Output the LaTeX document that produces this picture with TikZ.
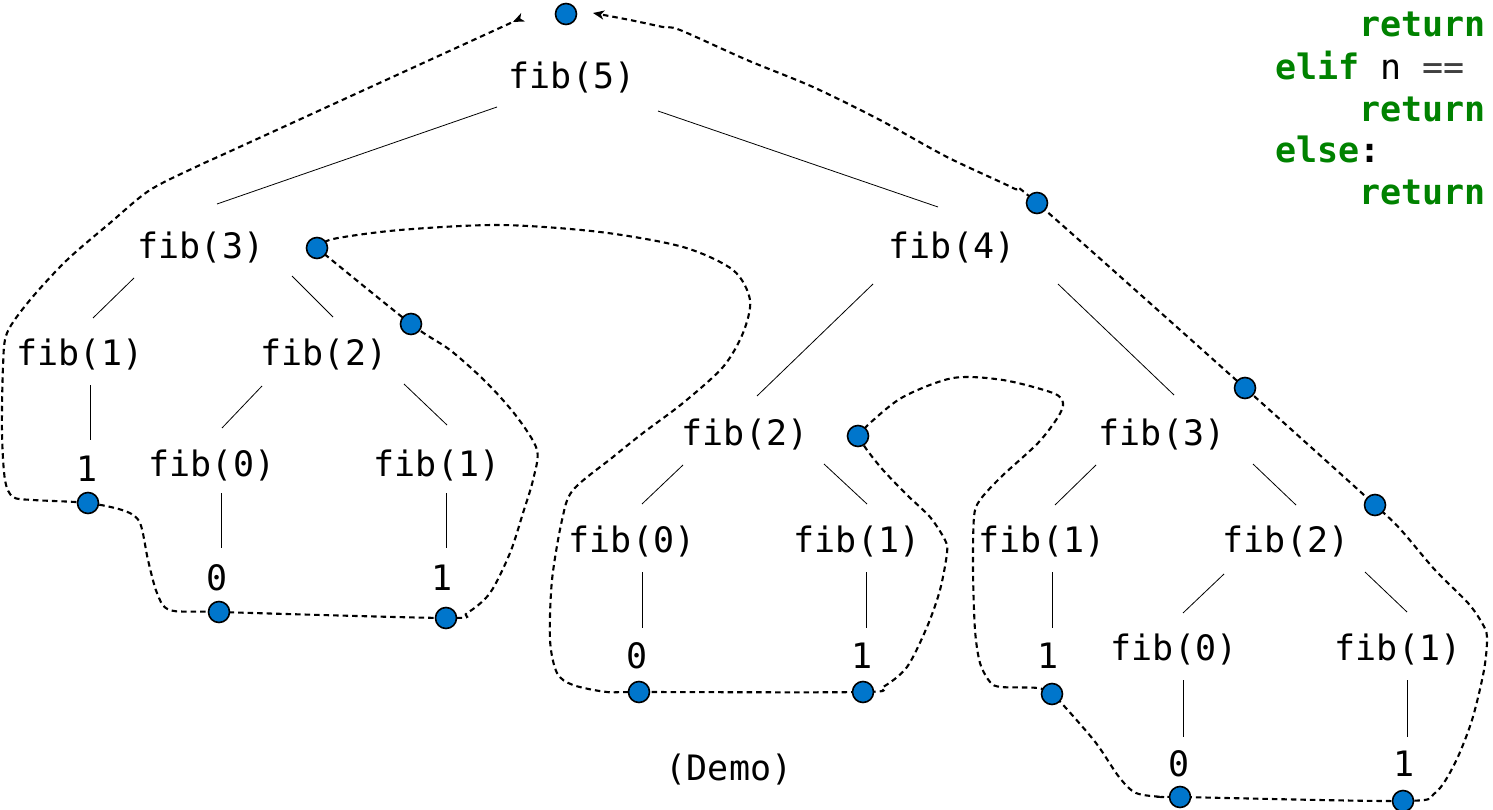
\documentclass[tikz,border=0pt]{standalone}
\usepackage{fontspec}
\newfontfamily\codefont{DejaVu Sans Mono}
\usetikzlibrary{calc,arrows.meta}
\definecolor{kw}{RGB}{0,130,0}
\definecolor{dotblue}{RGB}{0,118,204}

\tikzset{
  call/.style={font=\codefont\fontsize{35}{42}\selectfont, inner sep=0pt},
  codeline/.style={font=\codefont\bfseries\fontsize{35}{42}\selectfont, inner sep=0pt, anchor=base west},
  treeline/.style={line width=0.8pt},
  trace/.style={line width=2.1pt, dash pattern=on 5.5pt off 4pt},
  dot/.style={circle, fill=dotblue, draw=black, line width=1.6pt, minimum size=21pt, inner sep=0pt},
}
\newcommand{\treeedge}[4]{\draw[treeline] ($(#1)+(#2)$) -- ($(#3)+(#4)$);}

\begin{document}
\begin{tikzpicture}[x=1pt, y=-1pt]
\useasboundingbox (0,0) rectangle (1493,810);

% ---- call tree labels ----
\node[call] (f5)  at (572,78)   {fib(5)};
\node[call] (f3a) at (201,248)  {fib(3)};
\node[call] (f4)  at (952,248)  {fib(4)};
\node[call] (f1a) at (80,355)   {fib(1)};
\node[call] (f2a) at (324,355)  {fib(2)};
\node[call] (v1a) at (87,469)   {1};
\node[call] (f0a) at (212,466)  {fib(0)};
\node[call] (f1b) at (437,466)  {fib(1)};
\node[call] (v0a) at (217,578)  {0};
\node[call] (v1b) at (442,578)  {1};
\node[call] (f2m) at (745,435)  {fib(2)};
\node[call] (f0m) at (632,542)  {fib(0)};
\node[call] (f1m) at (857,542)  {fib(1)};
\node[call] (v0m) at (637,656)  {0};
\node[call] (v1m) at (862,656)  {1};
\node[call] (f3r) at (1162,435) {fib(3)};
\node[call] (f1r) at (1042,542) {fib(1)};
\node[call] (f2r) at (1286,542) {fib(2)};
\node[call] (v1r) at (1048,656) {1};
\node[call] (f0r) at (1174,650) {fib(0)};
\node[call] (f1s) at (1398,650) {fib(1)};
\node[call] (v0r) at (1179,764) {0};
\node[call] (v1s) at (1404,764) {1};
\node[call] (demo) at (729,770) {(Demo)};

% ---- tree edges ----
\treeedge{f5}{-75,29}{f3a}{16,-44}
\treeedge{f5}{86,33}{f4}{-14,-41}
\treeedge{f3a}{-67,30}{f1a}{13,-37}
\treeedge{f3a}{91,28}{f2a}{9,-38}
\treeedge{f1a}{10,30}{v1a}{3,-29}
\treeedge{f2a}{-62,31}{f0a}{10,-38}
\treeedge{f2a}{80,29}{f1b}{10,-41}
\treeedge{f0a}{9,27}{v0a}{4,-30}
\treeedge{f1b}{9,27}{v1b}{4,-30}
\treeedge{f4}{-79,36}{f2m}{12,-39}
\treeedge{f4}{106,36}{f3r}{12,-40}
\treeedge{f2m}{-62,30}{f0m}{10,-38}
\treeedge{f2m}{79,29}{f1m}{10,-38}
\treeedge{f0m}{10,30}{v0m}{5,-28}
\treeedge{f1m}{9,30}{v1m}{4,-28}
\treeedge{f3r}{-66,30}{f1r}{13,-37}
\treeedge{f3r}{91,29}{f2r}{10,-37}
\treeedge{f1r}{10,30}{v1r}{4,-28}
\treeedge{f2r}{-62,32}{f0r}{9,-37}
\treeedge{f2r}{79,30}{f1s}{9,-38}
\treeedge{f0r}{9,30}{v0r}{4,-27}
\treeedge{f1s}{9,30}{v1s}{3,-27}

% ---- return points ----
\coordinate (d0)  at (566,14);
\coordinate (d1)  at (88,503);
\coordinate (d2)  at (219,612);
\coordinate (d3)  at (446,618);
\coordinate (d4)  at (411,324);
\coordinate (d5)  at (317,248);
\coordinate (d6)  at (639,692);
\coordinate (d7)  at (863,692);
\coordinate (d8)  at (858,436);
\coordinate (d9)  at (1052,694);
\coordinate (d10) at (1180,797);
\coordinate (d11) at (1403,801);
\coordinate (d12) at (1375,505);
\coordinate (d13) at (1245,388);
\coordinate (d14) at (1037,203);
\coordinate (tipL) at (513,22);
\coordinate (tipR) at (593,13);

% ---- execution trace ----
\draw[trace, arrows={Stealth[length=11pt,width=9pt,inset=3pt]-}]
  plot[smooth, tension=0.5] coordinates {
  (tipL) (480,37) (233,150) (200,165) (150,190) (110,223) (67,260) (30,300)
  (7,333) (3,367) (2,433) (5,480) (13,497) (33,500) (d1) (125,511) (140,523)
  (148,560) (157,593) (170,610) (d2) (d3) (467,613) (490,593) (510,553)
  (523,513) (533,480) (537,450) (517,417) (487,383) (450,350) (d4) (d5)};
\draw[trace]
  plot[smooth, tension=0.5] coordinates {
  (d5) (333,239) (400,230) (500,225) (600,232) (683,247) (733,270) (750,300)
  (743,333) (723,367) (683,403) (643,433) (613,457) (573,490) (562,520)
  (552,580) (550,640) (557,673) (573,685) (607,692) (d6) (d7) (883,687)
  (907,667) (927,627) (940,590) (947,553) (945,540) (930,517) (907,495)
  (883,470) (867,450) (d8)};
\draw[trace, arrows={-Stealth[length=11pt,width=9pt,inset=3pt]}]
  plot[smooth, tension=0.5] coordinates {
  (d8) (870,423) (903,397) (953,378) (1003,380) (1053,393) (1063,403)
  (1058,417) (1038,443) (1001,477) (980,500) (974,517) (973,570) (975,630)
  (980,663) (990,682) (1001,687) (1038,688) (d9) (1065,707) (1096,743)
  (1119,777) (1136,793) (1163,797) (d10) (d11) (1435,793) (1455,763)
  (1472,720) (1484,670) (1487,637) (1482,623) (1468,603) (1435,570)
  (1401,530) (d12) (d13) (d14) (1013,188) (947,157) (880,120) (813,87)
  (747,60) (680,30) (663,27) (630,20) (tipR)};

\foreach \p in {d0,d1,d2,d3,d4,d5,d6,d7,d8,d9,d10,d11,d12,d13,d14}
  \node[dot] at (\p) {};

% ---- source code ----
\node[codeline, text=kw] (c1) at (1359.3,37)  {return};
\node[codeline] (c2) at (1275,80) {\textcolor{kw}{elif}\mdseries{} n \textcolor{black!75}{==}};
\node[codeline, text=kw] (c3) at (1359.3,122) {return};
\node[codeline] (c4) at (1275,163) {\textcolor{kw}{else}:};
\node[codeline, text=kw] (c5) at (1359.3,205) {return};
\end{tikzpicture}
\end{document}
